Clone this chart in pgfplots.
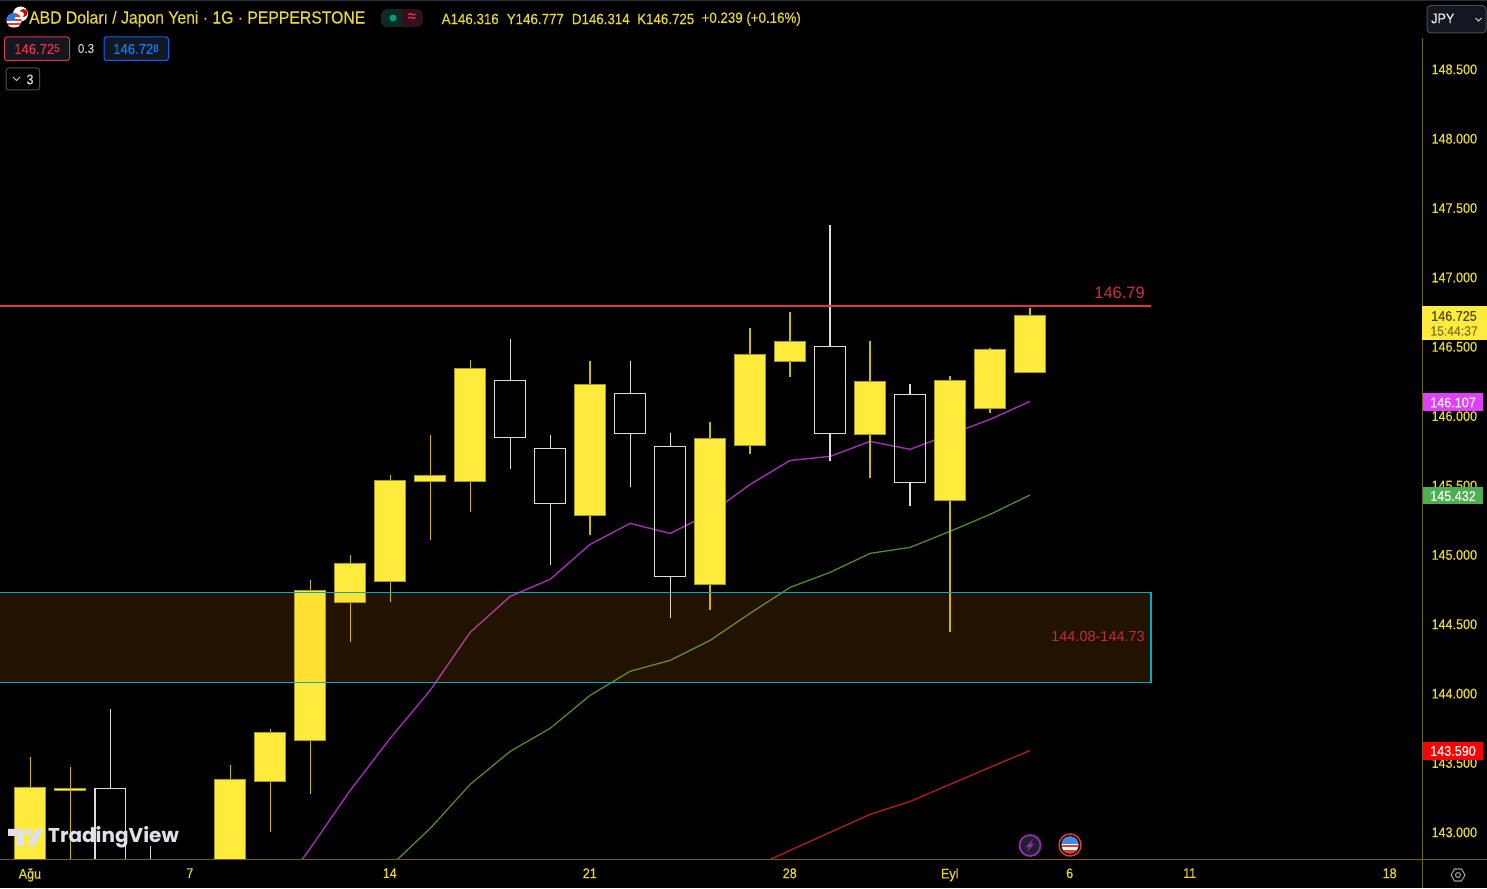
\documentclass[border=0pt]{standalone}
\usepackage{fontspec}
\setmainfont{Liberation Sans}
\newfontfamily\logofont{Poppins}
\newfontfamily\nar[FakeStretch=0.9,FakeBold=0.15]{Liberation Sans}
\usepackage{pgfplots}
\pgfplotsset{compat=1.18}
\definecolor{yel}{HTML}{FFEB3B}
\definecolor{ybord}{HTML}{A89A20}
\definecolor{wick}{HTML}{CDB900}
\definecolor{hol}{HTML}{DCDCDC}
\definecolor{tx}{HTML}{EAD92C}
\definecolor{axl}{HTML}{6E6112}
\definecolor{mag}{HTML}{A32DB5}
\definecolor{grn}{HTML}{4E8B2E}
\definecolor{rd}{HTML}{B71C1C}
\definecolor{cy}{HTML}{00ACC1}
\definecolor{hl}{HTML}{E53345}
\definecolor{btn}{HTML}{131722}
\newcommand{\fs}[1]{\fontsize{#1}{#1}\selectfont}
% index, lower body, high, low, upper body
\newcommand{\yc}[5]{%
\pgfmathsetmacro\xl{#1-0.385}\pgfmathsetmacro\xr{#1+0.385}%
\edef\doit{\noexpand\addplot[wick,line width=1.4pt] coordinates {(#1,#3)(#1,#4)};
\noexpand\addplot[draw=ybord,fill=yel,line width=1pt] coordinates {(\xl,#2)(\xr,#2)(\xr,#5)(\xl,#5)} --cycle;}\doit}
\newcommand{\wc}[5]{%
\pgfmathsetmacro\xl{#1-0.385}\pgfmathsetmacro\xr{#1+0.385}%
\edef\doit{\noexpand\addplot[hol,line width=1.3pt] coordinates {(#1,#3)(#1,#5)};
\noexpand\addplot[hol,line width=1.3pt] coordinates {(#1,#2)(#1,#4)};
\noexpand\addplot[draw=hol,line width=1.3pt] coordinates {(\xl,#2)(\xr,#2)(\xr,#5)(\xl,#5)} --cycle;}\doit}
\begin{document}
\begin{tikzpicture}
\useasboundingbox (0pt,0pt) rectangle (1487pt,888pt);
\fill[black] (0pt,0pt) rectangle (1487pt,888pt);
\begin{axis}[at={(0pt,28.6pt)},anchor=south west,width=1422pt,height=859pt,scale only axis,
 xmin=-0.7575,xmax=34.8,ymin=142.805,ymax=148.997,
 axis line style={draw=none},major tick length=0pt,
 xtick={0,4,9,14,19,23,26,29,34},
 xticklabels={Ağu,7,14,21,28,Eyl,6,11,18},
 xticklabel style={font=\nar\fs{14},text=tx,yshift=-5.4pt,xshift=-0.4pt},
 ytick={143,143.5,144,144.5,145,145.5,146,146.5,147,147.5,148,148.5},
 yticklabel pos=right,scaled y ticks=false,
 yticklabel style={font=\nar\fs{14},text=tx,anchor=west,xshift=6pt,/pgf/number format/.cd,fixed,fixed zerofill,precision=3,1000 sep={},assume math mode=true},
 clip=true]
% moving averages
\addplot[mag,line width=1.4pt] coordinates {(6,142.49)(7,142.885)(8,143.303)(9,143.678)(10,144.024)(11,144.442)(12,144.701)(13,144.824)(14,145.076)(15,145.227)(16,145.155)(17,145.299)(18,145.508)(19,145.681)(20,145.710)(21,145.818)(22,145.761)(23,145.869)(24,145.977)(25,146.107)};
\addplot[grn,line width=1.3pt] coordinates {(9,142.755)(10,143.029)(11,143.346)(12,143.584)(13,143.750)(14,143.988)(15,144.161)(16,144.240)(17,144.384)(18,144.579)(19,144.766)(20,144.874)(21,145.011)(22,145.054)(23,145.170)(24,145.292)(25,145.432)};
\addplot[rd,line width=1.3pt] coordinates {(18,142.74)(19,142.870)(20,143.000)(21,143.130)(22,143.223)(23,143.346)(24,143.469)(25,143.590)};
% candles
\yc{0}{142.5}{143.541}{142.4}{143.324}
\yc{1}{143.303}{143.469}{142.4}{143.317}
\wc{2}{142.5}{143.887}{142.4}{143.317}
\wc{3}{142.6}{142.899}{142.4}{142.7}
\yc{5}{142.5}{143.483}{142.4}{143.382}
\yc{6}{143.368}{143.742}{143.000}{143.721}
\yc{7}{143.663}{144.816}{143.274}{144.744}
\yc{8}{144.658}{144.997}{144.370}{144.939}
\yc{9}{144.809}{145.573}{144.658}{145.537}
\yc{10}{145.530}{145.862}{145.105}{145.573}
\yc{11}{145.530}{146.402}{145.307}{146.345}
\wc{12}{145.847}{146.554}{145.617}{146.258}
\wc{13}{145.372}{145.862}{144.925}{145.768}
\yc{14}{145.285}{146.395}{145.141}{146.229}
\wc{15}{145.876}{146.395}{145.487}{146.164}
\wc{16}{144.845}{145.876}{144.543}{145.782}
\yc{17}{144.788}{145.955}{144.600}{145.840}
\yc{18}{145.790}{146.633}{145.725}{146.446}
\yc{19}{146.395}{146.748}{146.280}{146.539}
\wc{20}{145.876}{147.375}{145.674}{146.503}
\yc{21}{145.869}{146.539}{145.552}{146.251}
\wc{22}{145.523}{146.229}{145.350}{146.157}
\yc{23}{145.393}{146.287}{144.442}{146.258}
\yc{24}{146.056}{146.489}{146.020}{146.482}
\yc{25}{146.316}{146.777}{146.314}{146.725}
% zone and level
\addplot[draw=none,fill={rgb,255:red,255;green,152;blue,0},fill opacity=0.13] coordinates {(-0.7575,144.08)(28.025,144.08)(28.025,144.73)(-0.7575,144.73)} --cycle;
\addplot[cy,line width=1.2pt] coordinates {(-0.7575,144.73)(28.025,144.73)};
\addplot[cy,line width=1.2pt] coordinates {(28.025,144.73)(28.025,144.08)(-0.7575,144.08)};
\addplot[hl,line width=2pt] coordinates {(-0.7575,146.793)(28.025,146.793)};
\end{axis}
\begin{scope}[x=1pt,y=-1pt,yshift=888pt]
% frame
\fill[fill={rgb,255:red,42;green,46;blue,57}] (0,0) rectangle (1487,1.5);
\draw[axl,line width=1.3pt] (1422.5,38)--(1422.5,888);
\draw[axl,line width=1.3pt] (0,859.5)--(1487,859.5);
% chart annotations
\node[anchor=east,text=hl!90!black,font=\fs{16.5},inner sep=0] at (1145,292.5) {146.79};
\node[anchor=east,text=hl!85!black,font=\fs{14.5},inner sep=0] at (1145,636.5) {144.08-144.73};
% price tags
\fill[yel] (1422,306) rectangle (1487,340);
\node[text=black!70!yel,font=\nar\fs{14},inner sep=0] at (1454,316) {146.725};
\node[text=black!50!yel,font=\nar\fs{13.5},inner sep=0] at (1454,331) {15:44:37};
\fill[fill={rgb,255:red,224;green,64;blue,251}] (1423,393) rectangle (1483,411);
\node[text=white,font=\nar\fs{14},inner sep=0] at (1453,402.5) {146.107};
\fill[fill={rgb,255:red,76;green,175;blue,80}] (1423,487) rectangle (1483,504);
\node[text=white,font=\nar\fs{14},inner sep=0] at (1453,496) {145.432};
\fill[red] (1423,742) rectangle (1483,760);
\node[text=white,font=\nar\fs{14},inner sep=0] at (1453,751) {143.590};
% header
\node[anchor=west,text=tx,font=\nar\fs{17.5},inner sep=0] at (29,19) {ABD Doları / Japon Yeni · 1G · PEPPERSTONE};
\node[anchor=west,text=tx,font=\nar\fs{14.8},inner sep=0] at (441.5,19) {A146.316};
\node[anchor=west,text=tx,font=\nar\fs{14.8},inner sep=0] at (506.6,19) {Y146.777};
\node[anchor=west,text=tx,font=\nar\fs{14.8},inner sep=0] at (571.7,19) {D146.314};
\node[anchor=west,text=tx,font=\nar\fs{14.8},inner sep=0] at (637,19) {K146.725};
\node[anchor=west,text=tx,font=\nar\fs{14.8},inner sep=0] at (701.4,19) {+0.239 (+0.16\%)};
% status pill
\begin{scope}
\clip[rounded corners=7pt] (381,9) rectangle (423,27.5);
\fill[fill={rgb,255:red,11;green,43;blue,38}] (381,9) rectangle (402,27.5);
\fill[fill={rgb,255:red,51;green,16;blue,26}] (402,9) rectangle (423,27.5);
\end{scope}
\fill[fill={rgb,255:red,8;green,153;blue,129}] (393,18) circle (3.5);
\node[text=hl,font=\fs{15}\bfseries,inner sep=0] at (412,18) {≈};
% bid ask
\draw[hl,fill=btn,rounded corners=2.5pt,line width=1pt] (4.5,37)--(69.5,37)--(69.5,60.5)--(4.5,60.5)--cycle;
\node[text=hl,font=\nar\fs{14.5},inner sep=0] at (37,49) {146.72\raisebox{2pt}{\fs{11}5}};
\node[text=black!20!white,font=\nar\fs{13},inner sep=0] at (86,48.5) {0.3};
\draw[blue!60!cyan,fill=btn,rounded corners=2.5pt,line width=1pt] (104,37)--(168.5,37)--(168.5,60.5)--(104,60.5)--cycle;
\node[text=blue!50!cyan,font=\nar\fs{14.5},inner sep=0] at (136,49) {146.72\raisebox{2pt}{\fs{11}8}};
\draw[black!70!white,rounded corners=2.5pt,line width=1pt] (6,68)--(39.5,68)--(39.5,90)--(6,90)--cycle;
\draw[black!20!white,line width=1pt] (13,77)--(16.5,80.5)--(20,77);
\node[text=black!15!white,font=\nar\fs{14},inner sep=0] at (30,79.5) {3};
% currency button
\draw[black!70!white,fill=btn,rounded corners=4pt,line width=1pt] (1427,5.5)--(1486,5.5)--(1486,33)--(1427,33)--cycle;
\node[anchor=west,text=black!5!white,font=\nar\fs{14},inner sep=0] at (1431,18.5) {JPY};
\draw[black!15!white,line width=1pt] (1475.5,18)--(1478.5,21)--(1481.5,18);
% flag icon top-left
\fill[white] (20.5,14) circle (7.5);
\fill[red!80!black] (23.5,13) circle (4);
\fill[white] (21,14.5) circle (3);
\begin{scope}
\clip (14,20.5) circle (7.5);
\fill[fill={rgb,255:red,229;green,57;blue,53}] (6,12) rectangle (22,29);
\fill[white] (6,17) rectangle (22,19);
\fill[white] (6,21) rectangle (22,23);
\fill[white] (6,25) rectangle (22,27);
\fill[fill={rgb,255:red,41;green,121;blue,230}] (6,12) rectangle (15,21);
\end{scope}
% event icons
\draw[fill={rgb,255:red,30;green,34;blue,45},draw={rgb,255:red,156;green,39;blue,176},line width=1.8pt] (1030,845.5) circle (10.5);
\fill[fill={rgb,255:red,156;green,39;blue,176}] (1033,839)--(1026,847)--(1029.5,847)--(1027,852)--(1034,844)--(1030.5,844)--cycle;
\draw[draw={rgb,255:red,229;green,57;blue,53},line width=1.5pt] (1070,845) circle (11);
\begin{scope}
\clip (1070,845) circle (8.5);
\fill[white] (1060,835) rectangle (1080,855);
\fill[fill={rgb,255:red,229;green,57;blue,53}] (1060,845) rectangle (1080,847.5);
\fill[fill={rgb,255:red,229;green,57;blue,53}] (1060,850) rectangle (1080,853);
\fill[fill={rgb,255:red,66;green,135;blue,230}] (1060,835) rectangle (1080,844);
\end{scope}
% settings
\draw[black!40!white,line width=1.1pt] (1451,875)--(1454.5,869)--(1461.5,869)--(1465,875)--(1461.5,881)--(1454.5,881)--cycle;
\draw[black!40!white,line width=1.1pt] (1458,875) circle (2.5);
% logo
\begin{scope}[fill={rgb,255:red,222;green,225;blue,233}]
\fill (8,829)--(24,829)--(24,846)--(16.5,846)--(16.5,836)--(8,836)--cycle;
\fill (28.5,832.5) circle (3.8);
\fill (35.5,829)--(43,829)--(35,846)--(27,846)--cycle;
\node[anchor=west,text={rgb,255:red,222;green,225;blue,233},font=\logofont\fs{20}\bfseries,inner sep=0] at (48,837) {TradingView};
\end{scope}
\end{scope}
\end{tikzpicture}
\end{document}
